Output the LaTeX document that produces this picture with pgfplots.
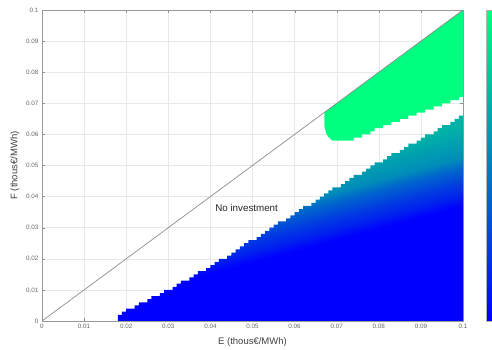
\documentclass[border=0pt]{standalone}
\usepackage{fontspec}
\setmainfont{Liberation Sans}
\usepackage{pgfplots}
\pgfplotsset{compat=1.18}
\definecolor{w0}{RGB}{0,0,255}
\definecolor{w14}{RGB}{0,36,237}
\definecolor{w22}{RGB}{0,56,227}
\definecolor{w30}{RGB}{0,77,217}
\definecolor{w40}{RGB}{0,102,204}
\definecolor{w55}{RGB}{0,140,185}
\definecolor{w70}{RGB}{0,178,166}
\definecolor{w100}{RGB}{0,255,128}
\pgfdeclareverticalshading{winterfade}{100bp}{color(0bp)=(w0); color(43bp)=(w0); color(45.5bp)=(w14); color(47.5bp)=(w22); color(49bp)=(w30); color(51bp)=(w40); color(53bp)=(w55); color(59.5bp)=(w70); color(100bp)=(w70)}
\begin{document}
\begin{tikzpicture}
\begin{axis}[
  at={(42pt,29pt)}, anchor=south west,
  scale only axis, width=421pt, height=311pt,
  xmin=0, xmax=0.1, ymin=0, ymax=0.1,
  xtick={0,0.01,0.02,0.03,0.04,0.05,0.06,0.07,0.08,0.09,0.1},
  ytick={0,0.01,0.02,0.03,0.04,0.05,0.06,0.07,0.08,0.09,0.1},
  scaled ticks=false,
  /pgf/number format/fixed, /pgf/number format/precision=2,
  /pgf/number format/assume math mode=true,
  tick label style={font=\fontsize{6.3}{7}\selectfont, text=black!60},
  label style={font=\fontsize{9.5}{11}\selectfont, text=black!75},
  xlabel={E (thous€/MWh)}, ylabel={F (thous€/MWh)},
  xlabel style={yshift=-2pt},
  axis line style={draw=black!40},
  tick style={draw=black!45}, tick align=inside, major tick length=3pt,
  grid=major, major grid style={draw=black!9, line width=0.4pt},
  colormap={winter}{rgb255(0cm)=(0,0,255); rgb255(1cm)=(0,255,128)},
  colorbar, point meta min=0, point meta max=311,
  colorbar style={at={(parent axis.north east)}, anchor=north west, xshift=14.5pt,
    width=14pt, ytick={13,48,83,118,153,188,223,258,293}, yticklabels={},
    ytick pos=right, tick align=inside, major tick length=2pt,
    axis line style={draw=black!30}, tick style={draw=black!55}},
]
% region with investment (lower, shaded)
\addplot[const plot, draw=none, shading=winterfade, shading angle=15] coordinates {
(0.018,0.002) (0.019,0.003) (0.020,0.004) (0.022,0.005) (0.023,0.006) (0.025,0.007)
(0.026,0.008) (0.028,0.009) (0.029,0.010) (0.031,0.011) (0.032,0.012) (0.033,0.013)
(0.035,0.014) (0.036,0.015) (0.037,0.016) (0.039,0.017) (0.040,0.018) (0.041,0.019)
(0.042,0.020) (0.044,0.021) (0.045,0.022) (0.046,0.023) (0.047,0.024) (0.048,0.025)
(0.049,0.026) (0.051,0.027) (0.052,0.028) (0.053,0.029) (0.054,0.030) (0.055,0.031)
(0.056,0.032) (0.058,0.033) (0.059,0.034) (0.060,0.035) (0.061,0.036) (0.062,0.037)
(0.064,0.038) (0.065,0.039) (0.066,0.040) (0.067,0.041) (0.068,0.042) (0.069,0.043)
(0.071,0.044) (0.072,0.045) (0.073,0.046) (0.074,0.047) (0.076,0.048) (0.077,0.049)
(0.078,0.050) (0.079,0.051) (0.081,0.052) (0.082,0.053) (0.083,0.054) (0.085,0.055)
(0.086,0.056) (0.087,0.057) (0.089,0.058) (0.090,0.059) (0.091,0.060) (0.093,0.061)
(0.094,0.062) (0.095,0.063) (0.097,0.064) (0.098,0.065) (0.099,0.066) (0.100,0.066)
} \closedcycle;
% upper region (green)
\addplot[draw=none, fill=w100] coordinates {
(0.0671,0.0671) (0.0671,0.0625) (0.0675,0.0603) (0.068,0.0592) (0.069,0.058)
(0.074,0.058) (0.074,0.059) (0.076,0.059) (0.076,0.060) (0.078,0.060) (0.078,0.061)
(0.079,0.061) (0.079,0.062) (0.081,0.062) (0.081,0.063) (0.083,0.063) (0.083,0.064)
(0.085,0.064) (0.085,0.065) (0.087,0.065) (0.087,0.066) (0.089,0.066) (0.089,0.067)
(0.091,0.067) (0.091,0.068) (0.093,0.068) (0.093,0.069) (0.095,0.069) (0.095,0.070)
(0.097,0.070) (0.097,0.071) (0.099,0.071) (0.099,0.072) (0.100,0.072) (0.100,0.100)
} -- cycle;
% diagonal
\addplot[draw=black!45, line width=0.7pt] coordinates {(0,0) (0.1,0.1)};
\node[font=\fontsize{9.8}{11}\selectfont, text=black!85] at (axis cs:0.0486,0.0363) {No investment};
\end{axis}
\pgfresetboundingbox
\path[use as bounding box] (0,0) rectangle (492pt,350pt);
\end{tikzpicture}
\end{document}
